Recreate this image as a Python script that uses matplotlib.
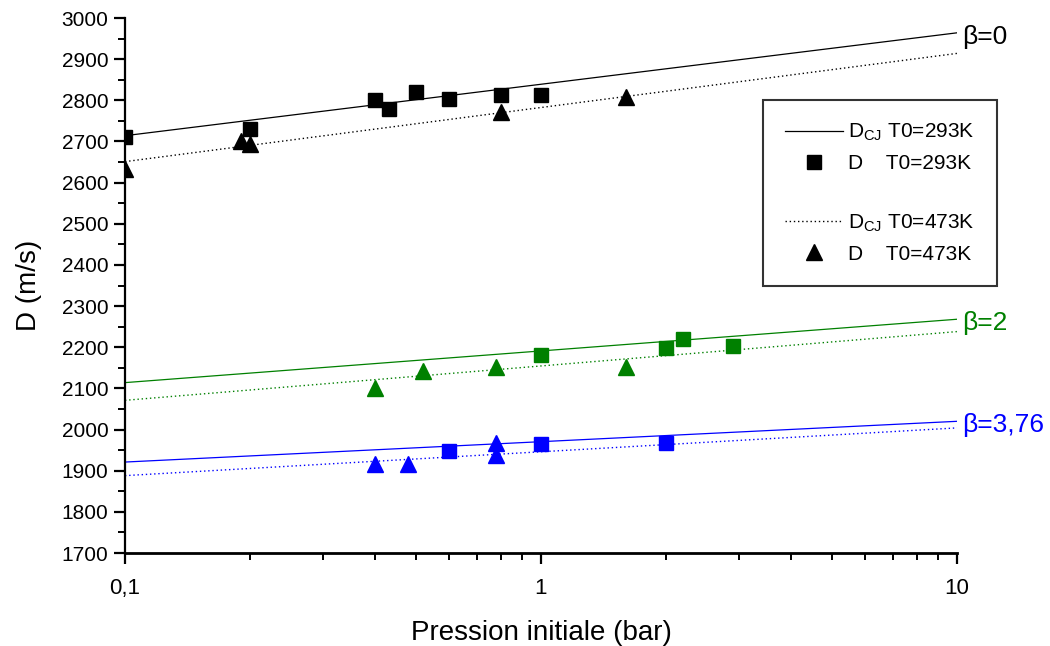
import matplotlib
matplotlib.use("Agg")
import matplotlib.pyplot as plt
from matplotlib.lines import Line2D
from matplotlib.ticker import FixedLocator, FuncFormatter, MultipleLocator

plt.rcParams['font.family'] = ['Liberation Sans', 'DejaVu Sans']
plt.rcParams['mathtext.fontset'] = 'custom'
plt.rcParams['mathtext.rm'] = 'Liberation Sans'

# ---- data ----
p_cj = [0.1, 10]
black_cj293 = [2714, 2964]
black_cj473 = [2651, 2914]
green_cj293 = [2114, 2268]
green_cj473 = [2071, 2238]
blue_cj293 = [1921, 2020]
blue_cj473 = [1888, 2004]

black_sq_p = [0.1, 0.2, 0.4, 0.43, 0.5, 0.6, 0.8, 1.0]
black_sq_D = [2710, 2730, 2800, 2780, 2820, 2803, 2813, 2813]
black_tr_p = [0.1, 0.19, 0.2, 0.8, 1.6]
black_tr_D = [2633, 2702, 2693, 2771, 2807]

green_sq_p = [1.0, 2.0, 2.2, 2.9]
green_sq_D = [2180, 2199, 2219, 2203]
green_tr_p = [0.4, 0.52, 0.78, 1.6]
green_tr_D = [2102, 2142, 2153, 2153]

blue_sq_p = [0.6, 1.0, 2.0]
blue_sq_D = [1948, 1964, 1968]
blue_tr_p = [0.4, 0.48, 0.78, 0.78]
blue_tr_D = [1917, 1917, 1968, 1938]

beta_labels = ["β=0", "β=2", "β=3,76"]
x_ticks = [0.1, 1, 10]
x_ticklabels = ["0,1", "1", "10"]

# ---- figure ----
fig = plt.figure(figsize=(10.5, 6.46), dpi=100)
ax = fig.add_axes([125/1050, 1-553/646, (957-125)/1050, (553-18)/646])

groups = [
    ("black", black_cj293, black_cj473, black_sq_p, black_sq_D, black_tr_p, black_tr_D),
    ("#008000", green_cj293, green_cj473, green_sq_p, green_sq_D, green_tr_p, green_tr_D),
    ("#0000ff", blue_cj293, blue_cj473, blue_sq_p, blue_sq_D, blue_tr_p, blue_tr_D),
]

for (c, cj293, cj473, sqp, sqD, trp, trD), lab in zip(groups, beta_labels):
    ax.plot(p_cj, cj293, color=c, lw=0.9, ls='-', zorder=2)
    ax.plot(p_cj, cj473, color=c, lw=1.0, ls=(0, (1, 2)), zorder=2)
    ax.plot(sqp, sqD, ls='none', marker='s', ms=10, color=c, zorder=3)
    ax.plot(trp, trD, ls='none', marker='^', ms=12, color=c, zorder=3)
    ax.annotate(lab, xy=(p_cj[-1], cj293[-1]), xytext=(4, -3), textcoords='offset points',
                ha='left', va='center', fontsize=19, color=c, annotation_clip=False)

ax.set_xscale('log')
ax.set_xlim(0.1, 10)
ax.set_ylim(1700, 3000)

ax.xaxis.set_major_locator(FixedLocator(x_ticks))
ax.xaxis.set_major_formatter(FuncFormatter(lambda v, pos: x_ticklabels[x_ticks.index(v)] if v in x_ticks else ""))
ax.yaxis.set_major_locator(MultipleLocator(100))
ax.yaxis.set_minor_locator(MultipleLocator(50))

for s in ['top', 'right']:
    ax.spines[s].set_visible(False)
ax.spines['left'].set_linewidth(1.6)
ax.spines['bottom'].set_linewidth(2.0)

ax.tick_params(axis='both', which='major', direction='out', length=8, width=1.6, labelsize=15, pad=4)
ax.tick_params(axis='both', which='minor', direction='out', length=5, width=1.4)
ax.tick_params(axis='x', which='minor', labelbottom=False)
ax.tick_params(axis='x', which='major', pad=10, labelsize=16)

ax.set_xlabel("Pression initiale (bar)", fontsize=20, labelpad=15)
ax.set_ylabel("D (m/s)", fontsize=20, labelpad=14)

handles = [
    Line2D([], [], color='black', lw=0.9, ls='-'),
    Line2D([], [], color='black', ls='none', marker='s', ms=10),
    Line2D([], [], color='none'),
    Line2D([], [], color='black', lw=1.0, ls=(0, (1, 2))),
    Line2D([], [], color='black', ls='none', marker='^', ms=12),
]
labels = [
    r"D$_{\mathregular{CJ}}$ T0=293K",
    "D    T0=293K",
    " ",
    r"D$_{\mathregular{CJ}}$ T0=473K",
    "D    T0=473K",
]
leg = fig.legend(handles, labels, loc='upper left', bbox_to_anchor=(763/1050, 1-100/646),
                 frameon=True, fancybox=False, fontsize=15, handlelength=2.8,
                 handletextpad=0.25, labelspacing=0.5, borderpad=1.05, borderaxespad=0)
leg.get_frame().set_edgecolor('black')
leg.get_frame().set_linewidth(1.5)

fig.savefig("out.png", dpi=100)
